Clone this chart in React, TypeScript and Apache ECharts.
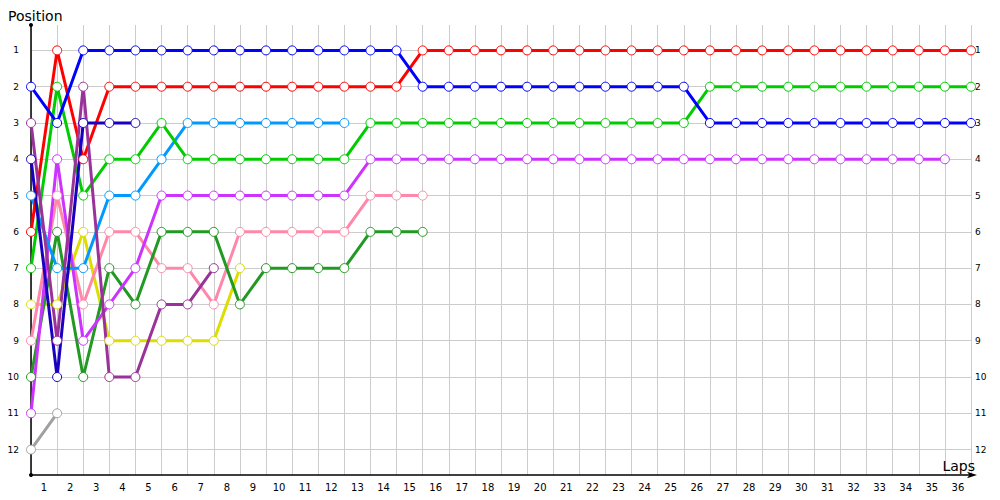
import React, { useEffect, useRef } from 'react';
import * as echarts from 'echarts';

const lapLabels = ['1','2','3','4','5','6','7','8','9','10','11','12','13','14','15','16','17','18','19','20','21','22','23','24','25','26','27','28','29','30','31','32','33','34','35','36'];
const positionTicks = [1,2,3,4,5,6,7,8,9,10,11,12];

const red = [6,1,4,2,2,2,2,2,2,2,2,2,2,2,2,1,1,1,1,1,1,1,1,1,1,1,1,1,1,1,1,1,1,1,1,1,1];
const blue = [2,3,1,1,1,1,1,1,1,1,1,1,1,1,1,2,2,2,2,2,2,2,2,2,2,2,3,3,3,3,3,3,3,3,3,3,3];
const darkBlue = [4,10,3,3,3];
const lightBlue = [5,7,7,5,5,4,3,3,3,3,3,3,3];
const green = [7,2,5,4,4,3,4,4,4,4,4,4,4,3,3,3,3,3,3,3,3,3,3,3,3,3,2,2,2,2,2,2,2,2,2,2,2];
const magenta = [11,4,9,8,7,5,5,5,5,5,5,5,5,4,4,4,4,4,4,4,4,4,4,4,4,4,4,4,4,4,4,4,4,4,4,4];
const pink = [9,5,8,6,6,7,7,8,6,6,6,6,6,5,5,5];
const darkGreen = [10,6,10,7,8,6,6,6,8,7,7,7,7,6,6,6];
const yellow = [8,8,6,9,9,9,9,9,7];
const darkPurple = [3,9,2,10,10,8,8,7];
const gray = [12,11];

const seriesDefs: [string, number[], string][] = [
  ['Gray', gray, '#a0a0a0'],
  ['Yellow', yellow, '#dddd00'],
  ['Pink', pink, '#ff88aa'],
  ['DarkGreen', darkGreen, '#229922'],
  ['Magenta', magenta, '#cc33ff'],
  ['LightBlue', lightBlue, '#0099ff'],
  ['Green', green, '#00cc00'],
  ['Red', red, '#ff0000'],
  ['DarkPurple', darkPurple, '#993399'],
  ['DarkBlue', darkBlue, '#1a00c0'],
  ['Blue', blue, '#0000ff'],
];

const FONT = 'DejaVu Sans';

export default function App() {
  const ref = useRef<HTMLDivElement>(null);
  useEffect(() => {
    document.body.style.margin = '0';
    const chart = echarts.init(ref.current!, null, { renderer: 'svg' });
    const yCommon = {
      type: 'value',
      min: 0.3,
      max: 12.7,
      inverse: true,
    };
    chart.setOption({
      animation: false,
      backgroundColor: '#ffffff',
      title: {
        text: 'Position',
        left: 3,
        top: 4,
        textStyle: { fontFamily: FONT, fontSize: 14, fontWeight: 'normal', color: '#000' },
      },
      grid: { left: 31, right: 29, top: 25, bottom: 25, containLabel: false },
      xAxis: {
        type: 'value',
        min: 0,
        max: 36,
        interval: 1,
        name: 'Laps',
        nameLocation: 'end',
        nameGap: 4,
        nameTextStyle: { fontFamily: FONT, fontSize: 14, color: '#000', align: 'right', verticalAlign: 'bottom', padding: [0, 0, 2, 0] },
        axisLine: { show: true, lineStyle: { color: '#000', width: 1.5 }, symbol: ['none', 'arrow'], symbolSize: [5, 10], symbolOffset: [0, 6] },
        axisTick: { show: false },
        splitLine: { show: true, lineStyle: { color: '#cccccc', width: 1 } },
        axisLabel: {
          customValues: lapLabels.map((_, i) => i + 0.5),
          formatter: (v: number) => lapLabels[Math.floor(v)],
          fontFamily: FONT,
          fontSize: 10,
          color: '#000',
          margin: 7,
        },
      },
      yAxis: [
        {
          ...yCommon,
          position: 'left',
          axisLine: { show: true, lineStyle: { color: '#000', width: 1.5 }, symbol: ['circle', 'circle'], symbolSize: [4, 4] },
          axisTick: { show: false, customValues: positionTicks },
          splitLine: { show: true, lineStyle: { color: '#cccccc', width: 1 } },
          axisLabel: { customValues: positionTicks, fontFamily: FONT, fontSize: 9, color: '#000', margin: 12 },
        },
        {
          ...yCommon,
          position: 'right',
          axisLine: { show: false },
          axisTick: { show: false, customValues: positionTicks },
          splitLine: { show: false },
          axisLabel: { customValues: positionTicks, fontFamily: FONT, fontSize: 9, color: '#000', margin: 4 },
        },
      ],
      series: seriesDefs.map(([name, vals, color]) => ({
        name,
        type: 'line',
        yAxisIndex: 0,
        data: vals.map((v, i) => [i, v]),
        symbol: 'circle',
        symbolSize: 9,
        lineStyle: { color, width: 3 },
        itemStyle: { color: '#ffffff', borderColor: color, borderWidth: 1 },
        emphasis: { disabled: true },
      })),
    });
    return () => chart.dispose();
  }, []);
  return <div ref={ref} style={{ width: 1000, height: 500 }} />;
}
